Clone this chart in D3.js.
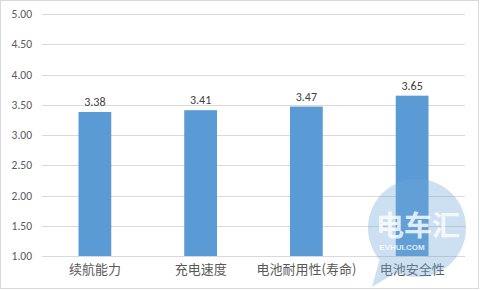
<!DOCTYPE html>
<html>
<head>
<meta charset="utf-8">
<script src="https://cdn.jsdelivr.net/npm/d3@7"></script>
<style>
  body { margin: 0; background: #fff; }
  svg { display: block; }
</style>
</head>
<body>
<svg id="chart" width="480" height="290"></svg>
<script>
const categories = ["续航能力", "充电速度", "电池耐用性(寿命)", "电池安全性"];
const scores = [3.38, 3.41, 3.47, 3.65];
const yTicks = [1.00, 1.50, 2.00, 2.50, 3.00, 3.50, 4.00, 4.50, 5.00];

const svg = d3.select("#chart");
const margin = {left: 42, right: 15, top: 14, bottom: 34};
const width = 480, height = 290;

// outer frame
svg.append("rect")
    .attr("x", 0.5).attr("y", 0.5)
    .attr("width", width - 2).attr("height", height - 2)
    .attr("fill", "#fff")
    .attr("stroke", "#d9d9d9");

const x = d3.scaleBand()
    .domain(categories)
    .range([margin.left, width - margin.right])
    .paddingInner(0.69)
    .paddingOuter(0.345);

const y = d3.scaleLinear()
    .domain([1, 5])
    .range([height - margin.bottom, margin.top]);

// gridlines
svg.append("g")
    .selectAll("line")
    .data(yTicks)
    .join("line")
    .attr("x1", margin.left)
    .attr("x2", width - margin.right)
    .attr("y1", d => Math.round(y(d)) + 0.5)
    .attr("y2", d => Math.round(y(d)) + 0.5)
    .attr("stroke", "#d9d9d9");

// y axis labels
const yAxis = d3.axisLeft(y)
    .tickValues(yTicks)
    .tickFormat(d3.format(".2f"))
    .tickSize(0)
    .tickPadding(10);

svg.append("g")
    .attr("transform", `translate(${margin.left}, 0)`)
    .call(yAxis)
    .call(g => g.select(".domain").remove())
    .selectAll("text")
    .attr("fill", "#595959")
    .style("font-family", "Calibri, Carlito, 'Liberation Sans', sans-serif")
    .style("font-size", "11.5px");

// bars
svg.append("g")
    .selectAll("rect")
    .data(scores)
    .join("rect")
    .attr("x", (d, i) => x(categories[i]))
    .attr("y", d => y(d))
    .attr("width", x.bandwidth())
    .attr("height", d => y(1) - y(d))
    .attr("fill", "#5b9bd5");

// value labels
svg.append("g")
    .selectAll("text")
    .data(scores)
    .join("text")
    .attr("x", (d, i) => x(categories[i]) + x.bandwidth() / 2)
    .attr("y", d => y(d) - 6)
    .attr("text-anchor", "middle")
    .attr("fill", "#404040")
    .style("font-family", "Calibri, Carlito, 'Liberation Sans', sans-serif")
    .style("font-size", "12px")
    .text(d => d.toFixed(2));

// category labels
const xAxis = d3.axisBottom(x).tickSize(0).tickPadding(9);
svg.append("g")
    .attr("transform", `translate(0, ${y(1)})`)
    .call(xAxis)
    .call(g => g.select(".domain").remove())
    .selectAll("text")
    .attr("fill", "#595959")
    .style("font-family", "'Noto Sans CJK SC', sans-serif")
    .style("font-size", "13px");

// watermark
const wm = svg.append("g").attr("opacity", 0.35);
wm.append("circle")
    .attr("cx", 417).attr("cy", 228).attr("r", 49)
    .attr("fill", "#6fa8d8");
wm.append("path")
    .attr("d", "M380,258 L372,287 L400,270 Z")
    .attr("fill", "#6fa8d8");
const wmText = svg.append("g").attr("opacity", 0.8);
wmText.append("text")
    .attr("x", 418).attr("y", 236)
    .attr("text-anchor", "middle")
    .attr("fill", "#fff")
    .style("font-family", "'Noto Sans CJK SC', sans-serif")
    .style("font-weight", "bold")
    .style("font-size", "28px")
    .text("电车汇");
wmText.append("text")
    .attr("x", 402).attr("y", 250)
    .attr("text-anchor", "middle")
    .attr("fill", "#fff")
    .style("font-family", "'Liberation Sans', sans-serif")
    .style("font-weight", "bold")
    .style("font-size", "8px")
    .text("EVHUI.COM");
</script>
</body>
</html>
